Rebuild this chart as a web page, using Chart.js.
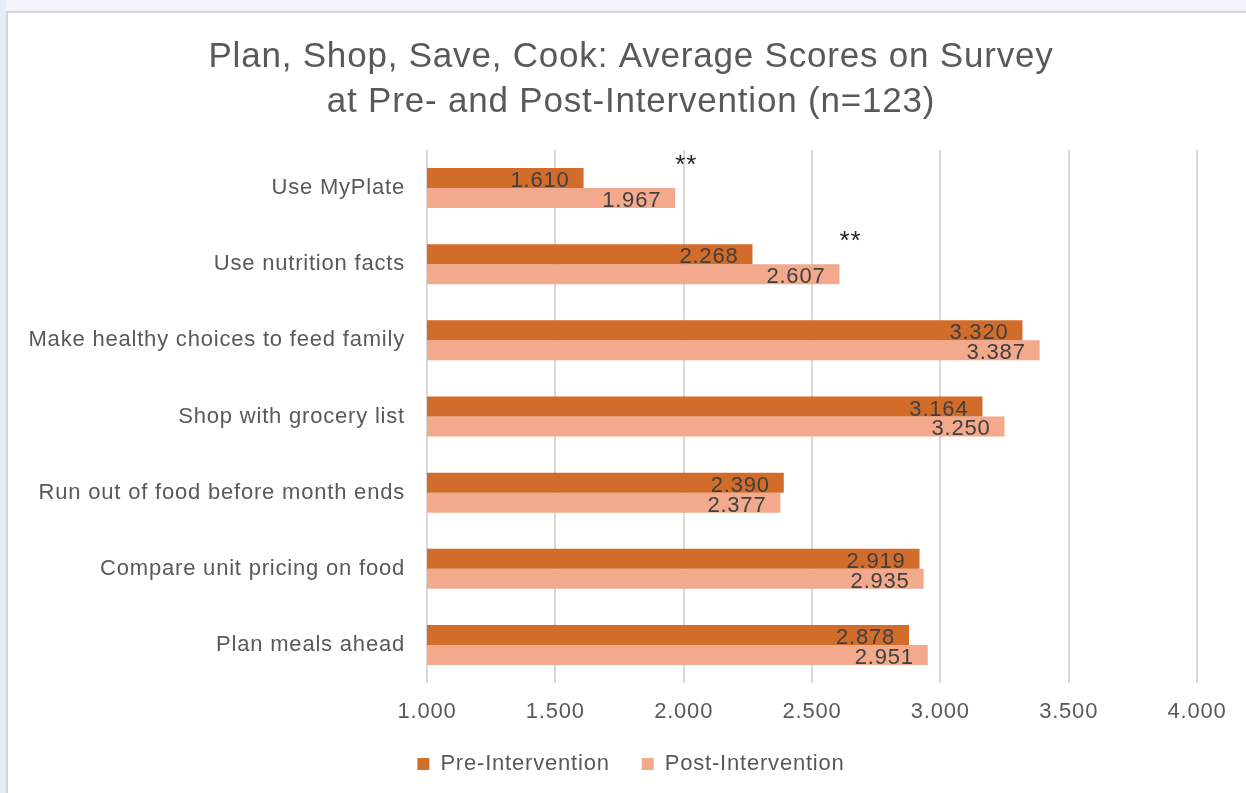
<!DOCTYPE html>
<html><head><meta charset="utf-8">
<script src="https://cdn.jsdelivr.net/npm/chart.js@4.4.1/dist/chart.umd.min.js"></script>
<style>
html,body{margin:0;padding:0;width:1246px;height:793px;overflow:hidden;background:#F2F3FB;}
#strip{position:absolute;left:0;top:0;width:6px;height:793px;background:#E6ECF6;}
#frame{position:absolute;left:6px;top:11px;width:1300px;height:900px;border-left:2px solid #D6D6D6;border-top:2px solid #D6D6D6;background:#fff;}
#c{position:absolute;left:8px;top:13px;}
</style></head><body>
<div id="strip"></div><div id="frame"></div>
<canvas id="c" width="1246" height="800"></canvas>
<script>
const categories = [
  'Use MyPlate',
  'Use nutrition facts',
  'Make healthy choices to feed family',
  'Shop with grocery list',
  'Run out of food before month ends',
  'Compare unit pricing on food',
  'Plan meals ahead'
];
const preValues  = [1.610, 2.268, 3.320, 3.164, 2.390, 2.919, 2.878];
const postValues = [1.967, 2.607, 3.387, 3.250, 2.377, 2.935, 2.951];
const significant = [true, true, false, false, false, false, false];
const seriesNames = ['Pre-Intervention', 'Post-Intervention'];
const titleLines = ['Plan, Shop, Save, Cook: Average Scores on Survey', 'at Pre- and Post-Intervention (n=123)'];
const xMin = 1.0, xMax = 4.0, xStep = 0.5;

const FONT = "'Liberation Sans', Arial, sans-serif";
Chart.defaults.font.family = FONT;

const spacing = '0.8px';
const spacingPlugin = {
  id: 'spacing',
  beforeUpdate(c) { c.ctx.letterSpacing = spacing; },
  beforeLayout(c) { c.ctx.letterSpacing = spacing; },
  beforeDraw(c) { c.ctx.letterSpacing = spacing; }
};

const labelPlugin = {
  id: 'barLabels',
  afterDatasetsDraw(c) {
    const ctx = c.ctx;
    ctx.save();
    ctx.letterSpacing = spacing;
    ctx.font = '22px ' + FONT;
    ctx.fillStyle = '#404040';
    ctx.textAlign = 'right';
    ctx.textBaseline = 'alphabetic';
    c.data.datasets.forEach((ds, di) => {
      const meta = c.getDatasetMeta(di);
      meta.data.forEach((bar, i) => {
        ctx.fillText(ds.data[i].toFixed(3), bar.x - 14, bar.y + 9);
      });
    });
    // significance markers
    const preMeta = c.getDatasetMeta(0);
    const postMeta = c.getDatasetMeta(1);
    ctx.font = '26px ' + FONT;
    ctx.fillStyle = '#262626';
    ctx.textAlign = 'center';
    significant.forEach((s, i) => {
      if (!s) return;
      const post = postMeta.data[i];
      const pre = preMeta.data[i];
      const top = pre.y - pre.height / 2;
      ctx.fillText('**', post.x + 11, top + 5);
    });
    ctx.restore();
  }
};

new Chart(document.getElementById('c'), {
  type: 'bar',
  data: {
    labels: categories,
    datasets: [
      { label: seriesNames[0], data: preValues, backgroundColor: '#D26C2B', borderWidth: 0 },
      { label: seriesNames[1], data: postValues, backgroundColor: '#F2A98C', borderWidth: 0 }
    ]
  },
  options: {
    indexAxis: 'y',
    responsive: false,
    animation: false,
    events: [],
    categoryPercentage: 0.525,
    barPercentage: 1.0,
    layout: { padding: { left: 0, right: 0, top: 0, bottom: 28 } },
    scales: {
      x: {
        min: xMin, max: xMax,
        ticks: {
          stepSize: xStep,
          callback: v => Number(v).toFixed(3),
          color: '#595959',
          font: { size: 22 },
          padding: 16
        },
        grid: { color: '#D9D9D9', lineWidth: 2, drawTicks: false },
        border: { display: false },
        afterFit(s) { s.height = 38; }
      },
      y: {
        ticks: { color: '#595959', font: { size: 22 }, padding: 22 },
        grid: { display: false, drawTicks: false },
        border: { display: false },
        afterFit(s) { s.width = 419; }
      },
      yRight: {
        type: 'category',
        position: 'right',
        ticks: { display: false },
        grid: { display: false, drawTicks: false },
        border: { display: false },
        afterFit(s) { s.width = 57; }
      }
    },
    plugins: {
      title: {
        display: true,
        text: titleLines,
        color: '#595959',
        font: { size: 35, weight: 'normal', lineHeight: 1.3 },
        padding: { top: 21.4, bottom: 24.6 }
      },
      legend: {
        position: 'bottom',
        labels: {
          boxWidth: 12, boxHeight: 12, padding: 32,
          color: '#595959', font: { size: 22 }
        }
      },
      tooltip: { enabled: false }
    }
  },
  plugins: [spacingPlugin, labelPlugin]
});
</script>
</body></html>
